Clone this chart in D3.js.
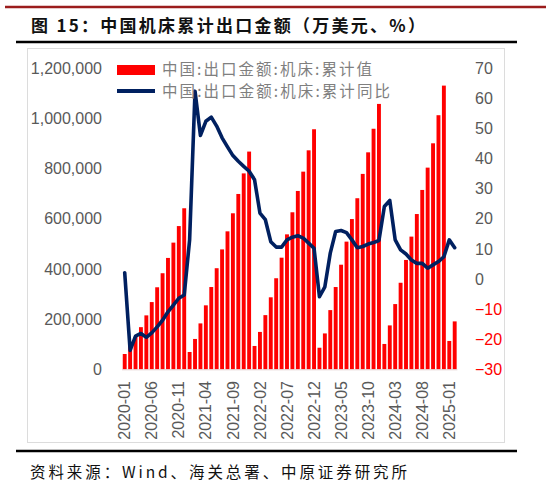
<!DOCTYPE html>
<html><head><meta charset="utf-8">
<script src="https://cdn.jsdelivr.net/npm/d3@7"></script>
<style>
html,body{margin:0;padding:0;background:#fff;}
svg{display:block;}
</style></head>
<body>
<svg id="c" width="552" height="482"></svg>
<script>
const months = ["2020-01","2020-02","2020-03","2020-04","2020-05","2020-06","2020-07","2020-08","2020-09","2020-10","2020-11","2020-12",
"2021-01","2021-02","2021-03","2021-04","2021-05","2021-06","2021-07","2021-08","2021-09","2021-10","2021-11","2021-12",
"2022-01","2022-02","2022-03","2022-04","2022-05","2022-06","2022-07","2022-08","2022-09","2022-10","2022-11","2022-12",
"2023-01","2023-02","2023-03","2023-04","2023-05","2023-06","2023-07","2023-08","2023-09","2023-10","2023-11","2023-12",
"2024-01","2024-02","2024-03","2024-04","2024-05","2024-06","2024-07","2024-08","2024-09","2024-10","2024-11","2024-12",
"2025-01","2025-02"];
const cumValue = [61000,95000,130000,168000,215000,268000,327000,383000,444000,505000,571000,642000,
69000,121000,183000,255000,328000,403000,478000,550000,622000,699000,781000,868000,
93000,149000,216000,287000,363000,445000,538000,626000,711000,788000,873000,957000,
86000,143000,236000,328000,417000,509000,599000,682000,779000,865000,959000,1058000,
101000,175000,260000,345000,436000,529000,619000,715000,804000,901000,1013000,1131000,
113000,191000];
const cumYoY = [2.1,-23.7,-19,-18.1,-19.4,-17.9,-15.9,-13.7,-10.9,-8.7,-6.4,-5.3,
13,62.4,47.7,52.4,53.8,50.8,46.9,43.9,41,39.1,37.4,35.8,
33,21.9,19.7,12.4,10.6,10.6,13,13.9,14.4,13.6,11.9,10.2,
-5.9,-2.6,8.6,15.8,16.1,15.4,13,10.4,10.8,11.6,12.1,12.8,
24.1,26.1,13,9.7,8.3,6.3,5.2,5.2,3.6,4.7,5.8,7.4,
13,10.4];
const leftTicks = [0,200000,400000,600000,800000,1000000,1200000];
const rightTicks = [-30,-20,-10,0,10,20,30,40,50,60,70];
const xTickLabels = ["2020-01","2020-06","2020-11","2021-04","2021-09","2022-02","2022-07","2022-12","2023-05","2023-10","2024-03","2024-08","2025-01"];
const seriesNames = ["中国:出口金额:机床:累计值","中国:出口金额:机床:累计同比"];
const titleText = "图 15：中国机床累计出口金额（万美元、%）";
const sourceText = "资料来源：Wind、海关总署、中原证券研究所";

const svg = d3.select("#c");
const numFont = "'Liberation Sans', Arial, sans-serif";
const cjkFont = "'Noto Sans CJK SC', 'Noto Sans', sans-serif";

// header/footer rules
svg.append("line").attr("x1",5).attr("x2",546).attr("y1",7).attr("y2",7).attr("stroke","#9b1c1c").attr("stroke-width",2.5);
svg.append("text").attr("x",31).attr("y",32).attr("font-family",cjkFont).attr("font-weight","bold")
  .attr("font-size",17).attr("fill","#111").attr("textLength",394).attr("lengthAdjust","spacing").text(titleText);
svg.append("line").attr("x1",16).attr("x2",517).attr("y1",42).attr("y2",42).attr("stroke","#000").attr("stroke-width",2.5);
svg.append("rect").attr("x",27.5).attr("y",48.5).attr("width",477).attr("height",394).attr("fill","none").attr("stroke","#dcdcdc").attr("stroke-width",1);
svg.append("line").attr("x1",16).attr("x2",517).attr("y1",451).attr("y2",451).attr("stroke","#000").attr("stroke-width",2.5);
svg.append("text").attr("x",30).attr("y",478).attr("font-family",cjkFont)
  .attr("font-size",15.5).attr("fill","#111").attr("textLength",377).attr("lengthAdjust","spacing").text(sourceText);

// scales
const x = d3.scaleBand().domain(months).range([122.0,457.4]).paddingInner(0.28).paddingOuter(0.14);
const yL = d3.scaleLinear().domain([0,1200000]).range([369.3,68.3]);
const yR = d3.scaleLinear().domain([-30,70]).range([369.3,68.3]);

// bars
svg.append("g").selectAll("rect").data(months).join("rect")
  .attr("x",d=>x(d)).attr("width",x.bandwidth())
  .attr("y",(d,i)=>yL(cumValue[i])).attr("height",(d,i)=>yL(0)-yL(cumValue[i]))
  .attr("fill","#ff0000");

// x axis line
svg.append("line").attr("x1",122).attr("x2",457.4).attr("y1",369.8).attr("y2",369.8).attr("stroke","#e0d0d0").attr("stroke-width",1);

// line
const line = d3.line().x((d,i)=>x(months[i])+x.bandwidth()/2).y(d=>yR(d)).curve(d3.curveLinear);
svg.append("path").datum(cumYoY).attr("d",line).attr("fill","none").attr("stroke","#002060")
  .attr("stroke-width",3.6).attr("stroke-linejoin","round").attr("stroke-linecap","round");

// left axis
const gL = svg.append("g").attr("transform","translate(102,0)")
  .call(d3.axisLeft(yL).tickValues(leftTicks).tickFormat(d3.format(",")).tickSize(0).tickPadding(0));
gL.select(".domain").remove();
gL.selectAll("text").attr("font-family",numFont).attr("font-size",16).attr("fill","#595959");

// right axis
const gR = svg.append("g").attr("transform","translate(475,0)")
  .call(d3.axisRight(yR).tickValues(rightTicks).tickFormat(d3.format("d")).tickSize(0).tickPadding(0));
gR.select(".domain").remove();
gR.selectAll("text").attr("font-family",numFont).attr("font-size",16).attr("fill",d=>d<0?"#ff0000":"#595959");

// bottom axis
const gB = svg.append("g").attr("transform","translate(0,381)")
  .call(d3.axisBottom(x).tickValues(xTickLabels).tickSize(0).tickPadding(0));
gB.select(".domain").remove();
gB.selectAll("text").attr("font-family",numFont).attr("font-size",16).attr("fill","#595959")
  .attr("transform","rotate(-90)").attr("text-anchor","end").attr("x",0).attr("y",0).attr("dy","0.35em");

// legend
svg.append("rect").attr("x",117).attr("y",65).attr("width",38).attr("height",10).attr("fill","#ff0000");
svg.append("text").attr("x",162).attr("y",70).attr("dy","0.35em").attr("font-family",cjkFont).attr("font-size",15.5)
  .attr("fill","#7f7f7f").attr("textLength",210).attr("lengthAdjust","spacing").text(seriesNames[0]);
svg.append("line").attr("x1",117).attr("x2",155).attr("y1",91).attr("y2",91).attr("stroke","#002060").attr("stroke-width",4);
svg.append("text").attr("x",162).attr("y",92).attr("dy","0.35em").attr("font-family",cjkFont).attr("font-size",15.5)
  .attr("fill","#7f7f7f").attr("textLength",228).attr("lengthAdjust","spacing").text(seriesNames[1]);
</script>
</body></html>
